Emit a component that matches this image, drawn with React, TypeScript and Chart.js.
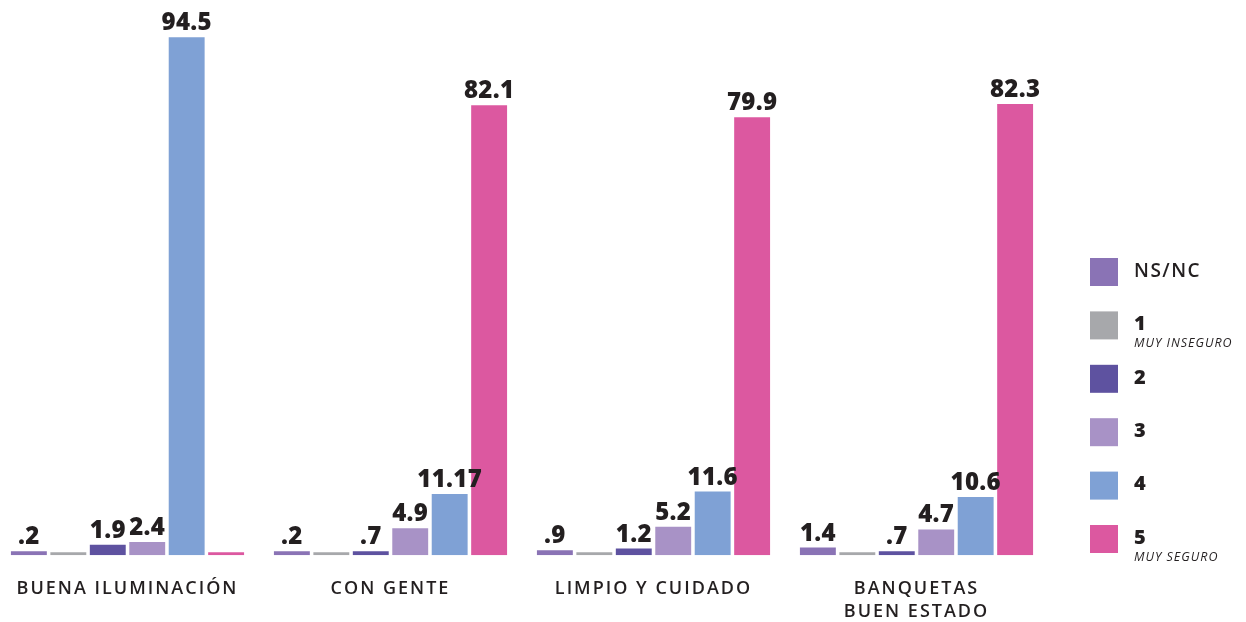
import React, { useEffect, useRef } from "react";
import { Chart, registerables } from "chart.js";

Chart.register(...registerables);

const categories: (string | string[])[] = [
  "BUENA ILUMINACIÓN",
  "CON GENTE",
  "LIMPIO Y CUIDADO",
  ["BANQUETAS", "BUEN ESTADO"],
];

const seriesNames = ["NS/NC", "1", "2", "3", "4", "5"];
const seriesSubtitles = ["", "MUY INSEGURO", "", "", "", "MUY SEGURO"];
const seriesColors = ["#8a73b5", "#a7a8ab", "#5e52a0", "#a892c6", "#7fa1d5", "#dc58a0"];

const nsncValues = [0.2, 0.2, 0.9, 1.4];
const oneValues = [0, 0, 0, 0];
const twoValues = [1.9, 0.7, 1.2, 0.7];
const threeValues = [2.4, 4.9, 5.2, 4.7];
const fourValues = [94.5, 11.17, 11.6, 10.6];
const fiveValues = [0, 82.1, 79.9, 82.3];

const nsncLabels = [".2", ".2", ".9", "1.4"];
const oneLabels = ["", "", "", ""];
const twoLabels = ["1.9", ".7", "1.2", ".7"];
const threeLabels = ["2.4", "4.9", "5.2", "4.7"];
const fourLabels = ["94.5", "11.17", "11.6", "10.6"];
const fiveLabels = ["", "82.1", "79.9", "82.3"];

const allValues = [nsncValues, oneValues, twoValues, threeValues, fourValues, fiveValues];
const allLabels = [nsncLabels, oneLabels, twoLabels, threeLabels, fourLabels, fiveLabels];
const minLengths = [4, 3, 4, 4, 4, 3];

const FONT = "'Open Sans', Lato, sans-serif";

const spacingPlugin = {
  id: "tickSpacing",
  beforeDraw(chart: any) {
    (chart.ctx as any).letterSpacing = "2px";
  },
  beforeDatasetsDraw(chart: any) {
    (chart.ctx as any).letterSpacing = "0px";
  },
};

const valueLabelPlugin = {
  id: "valueLabels",
  afterDatasetsDraw(chart: any) {
    const ctx = chart.ctx;
    ctx.save();
    ctx.font = `800 24px ${FONT}`;
    (ctx as any).letterSpacing = "0.3px";
    ctx.fillStyle = "#231f20";
    ctx.textAlign = "center";
    ctx.textBaseline = "alphabetic";
    chart.data.datasets.forEach((ds: any, di: number) => {
      const meta = chart.getDatasetMeta(di);
      meta.data.forEach((bar: any, i: number) => {
        const txt = allLabels[di][i];
        if (!txt) return;
        ctx.fillText(txt, bar.x, bar.y - 7);
      });
    });
    (ctx as any).letterSpacing = "0px";
    ctx.restore();
  },
};

const legendPlugin = {
  id: "customLegend",
  afterDraw(chart: any) {
    const ctx = chart.ctx;
    ctx.save();
    const x0 = 1094;
    const yStart = 258;
    const step = 53.4;
    seriesNames.forEach((name, i) => {
      const y = yStart + i * step;
      ctx.fillStyle = seriesColors[i];
      ctx.fillRect(x0, y, 28, 28);
      ctx.fillStyle = "#231f20";
      ctx.textAlign = "left";
      ctx.textBaseline = "middle";
      if (i === 0) {
        ctx.font = `600 19px ${FONT}`;
        (ctx as any).letterSpacing = "1.5px";
        ctx.fillText(name, x0 + 44, y + 14);
      } else {
        ctx.font = `800 20px ${FONT}`;
        (ctx as any).letterSpacing = "0px";
        ctx.fillText(name, x0 + 44, y + 13);
      }
      if (seriesSubtitles[i]) {
        ctx.font = `italic 500 12.5px ${FONT}`;
        (ctx as any).letterSpacing = "1px";
        ctx.fillText(seriesSubtitles[i], x0 + 44, y + 32);
      }
      (ctx as any).letterSpacing = "0px";
    });
    ctx.restore();
  },
};

export default function App() {
  const ref = useRef<HTMLCanvasElement | null>(null);
  useEffect(() => {
    if (!ref.current) return;
    const chart = new Chart(ref.current, {
      type: "bar",
      data: {
        labels: categories,
        datasets: seriesNames.map((n, i) => ({
          label: n,
          data: allValues[i],
          backgroundColor: seriesColors[i],
          borderWidth: 0,
          minBarLength: minLengths[i],
          categoryPercentage: 0.9,
          barPercentage: 0.91,
        })),
      },
      options: {
        animation: false,
        responsive: false,
        maintainAspectRatio: false,
        layout: { padding: { left: 0, right: 198, top: 7, bottom: 0 } },
        plugins: {
          legend: { display: false },
          tooltip: { enabled: false },
        },
        scales: {
          x: {
            grid: { display: false, drawTicks: false },
            border: { display: false },
            ticks: {
              color: "#231f20",
              padding: 22,
              font: { family: FONT, size: 18, weight: 600, lineHeight: 1.3 },
            },
          },
          y: {
            display: false,
            min: 0,
            max: 100,
          },
        },
      },
      plugins: [spacingPlugin, valueLabelPlugin, legendPlugin],
    });
    return () => chart.destroy();
  }, []);
  return (
    <div style={{ position: "absolute", left: -4, top: 0, width: 1250, height: 622, overflow: "hidden" }}>
      <canvas ref={ref} width={1250} height={646} style={{ width: 1250, height: 646, display: "block" }} />
    </div>
  );
}
